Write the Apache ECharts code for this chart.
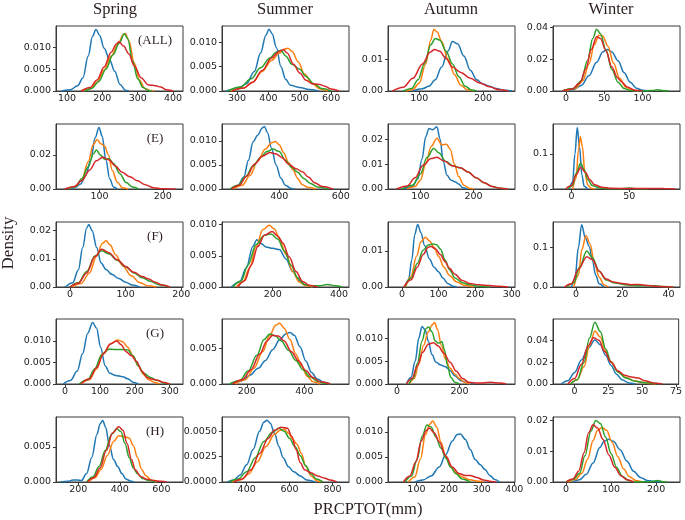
<!DOCTYPE html>
<html>
<head>
<meta charset="utf-8">
<script src="https://cdn.jsdelivr.net/npm/echarts@6/dist/echarts.min.js"></script>
<style>
html,body{margin:0;padding:0;background:#fff;}
#c{width:685px;height:520px;}
</style>
</head>
<body>
<div id="c"></div>
<script>
// ---------------- DATA ----------------
const seasons = ['Spring', 'Summer', 'Autumn', 'Winter'];
const regions = ['(ALL)', '(E)', '(F)', '(G)', '(H)'];
const xTitle = 'PRCPTOT(mm)';
const yTitle = 'Density';

// tick values per panel (row-major: region rows, season columns)
const xTicks = [
  [100, 200, 300, 400], [300, 400, 500, 600], [100, 200], [0, 50, 100],
  [100, 200], [400, 600], [100, 200], [0, 50],
  [0, 100, 200], [200, 400], [0, 100, 200, 300], [0, 20, 40],
  [0, 100, 200, 300], [200, 400], [0, 200], [0, 25, 50, 75],
  [200, 400, 600], [400, 600, 800], [100, 200, 300, 400], [0, 100, 200]
];
const yTicks = [
  [0, 0.005, 0.010], [0, 0.005, 0.010], [0, 0.01], [0, 0.02, 0.04],
  [0, 0.02], [0, 0.005, 0.010], [0, 0.01, 0.02], [0, 0.1],
  [0, 0.01, 0.02], [0, 0.005, 0.010], [0, 0.01], [0, 0.1],
  [0, 0.005, 0.010], [0, 0.005], [0, 0.005, 0.010], [0, 0.02, 0.04],
  [0, 0.005], [0, 0.0025, 0.0050], [0, 0.005, 0.010], [0, 0.01, 0.02]
];
const yTickDecimals = [3, 3, 2, 2, 2, 3, 2, 1, 2, 3, 2, 1, 3, 3, 3, 2, 3, 4, 3, 2];
const xRanges = [
  [69, 428], [252, 657], [51, 250], [-17, 149],
  [31, 232], [214, 627], [39, 278], [-16, 94],
  [-25, 203], [47, 430], [-38, 309], [-10, 45],
  [-26, 338], [114, 555], [-29, 378], [-16, 77],
  [93, 704], [285, 877], [13, 402], [-29, 253]
];
const yMax = [0.0149, 0.01338, 0.0204, 0.0408, 0.0381, 0.01352, 0.0261, 0.185,
  0.0231, 0.01043, 0.018, 0.165, 0.0151, 0.00908, 0.01435, 0.0595,
  0.00929, 0.00641, 0.013, 0.0211];

// ---- (ALL) ----
const ALL_Spring_b = [[85,0],[110,0.0003],[130,0.0012],[145,0.003],[160,0.008],[172,0.0125],[182,0.0141],[192,0.0128],[205,0.0098],[220,0.0073],[235,0.0045],[250,0.0015],[265,0.0002],[275,0]];
const ALL_Spring_o = [[145,0],[165,0.0005],[185,0.002],[205,0.0048],[225,0.008],[245,0.0108],[258,0.0128],[265,0.0132],[275,0.0115],[290,0.0065],[305,0.0025],[320,0.0006],[335,0.0001],[345,0]];
const ALL_Spring_g = [[150,0],[170,0.0006],[190,0.0022],[210,0.005],[230,0.0083],[248,0.011],[262,0.0131],[272,0.012],[285,0.007],[300,0.0028],[315,0.0008],[330,0.0001],[340,0]];
const ALL_Spring_r = [[140,0],[165,0.0008],[185,0.0025],[205,0.0055],[225,0.0089],[240,0.0108],[247,0.0113],[260,0.0103],[275,0.0085],[290,0.0058],[310,0.003],[330,0.0014],[350,0.0012],[365,0.0009],[380,0.0003],[400,0]];

const ALL_Summer_b = [[265,0],[300,0.0004],[330,0.0015],[355,0.004],[375,0.0078],[392,0.0115],[402,0.0127],[412,0.0118],[425,0.009],[440,0.005],[455,0.0024],[470,0.0012],[500,0.0007],[530,0.0003],[560,0]];
const ALL_Summer_o = [[280,0],[320,0.0006],[350,0.0018],[380,0.004],[410,0.0063],[435,0.0078],[450,0.0086],[462,0.0088],[475,0.0082],[495,0.006],[515,0.0035],[540,0.0015],[565,0.0004],[590,0]];
const ALL_Summer_g = [[270,0],[310,0.0008],[345,0.0025],[375,0.0048],[405,0.0068],[425,0.008],[440,0.0084],[455,0.0072],[475,0.0055],[500,0.0045],[520,0.003],[545,0.0015],[570,0.0005],[600,0]];
const ALL_Summer_r = [[285,0],[320,0.0006],[350,0.0018],[380,0.0042],[410,0.0068],[435,0.0082],[448,0.0085],[460,0.0078],[480,0.0055],[500,0.0037],[520,0.0022],[540,0.0015],[560,0.0014],[580,0.001],[600,0.0004],[625,0]];

const ALL_Autumn_b = [[90,0],[105,0.0007],[115,0.0015],[125,0.0035],[135,0.0075],[145,0.0125],[152,0.0155],[160,0.0148],[170,0.011],[180,0.0065],[190,0.0035],[200,0.0022],[210,0.0015],[220,0.0008],[235,0.0002],[245,0]];
const ALL_Autumn_o = [[78,0],[90,0.0005],[100,0.0025],[110,0.0085],[118,0.016],[123,0.0194],[128,0.0185],[135,0.0155],[145,0.01],[155,0.0052],[165,0.0018],[175,0.0004],[185,0]];
const ALL_Autumn_g = [[75,0],[88,0.0008],[98,0.0035],[108,0.0085],[118,0.0145],[125,0.0165],[132,0.016],[142,0.0125],[152,0.0085],[162,0.0045],[172,0.0015],[182,0.0003],[190,0]];
const ALL_Autumn_r = [[58,0],[75,0.0012],[90,0.004],[105,0.0085],[117,0.0122],[124,0.013],[132,0.0125],[142,0.0102],[152,0.0075],[165,0.0058],[180,0.004],[195,0.0025],[210,0.0013],[225,0.0004],[240,0]];

const ALL_Winter_b = [[-5,0],[10,0.001],[20,0.0035],[30,0.0095],[40,0.018],[48,0.0245],[54,0.0261],[60,0.0245],[68,0.019],[76,0.0115],[84,0.0055],[92,0.0018],[100,0.0004],[108,0]];
const ALL_Winter_o = [[0,0],[12,0.0015],[22,0.0065],[30,0.017],[37,0.029],[43,0.035],[48,0.0345],[55,0.028],[62,0.0175],[70,0.008],[78,0.0025],[86,0.0005],[95,0]];
const ALL_Winter_g = [[-5,0],[10,0.0015],[20,0.0065],[28,0.019],[35,0.033],[40,0.0387],[45,0.036],[52,0.026],[60,0.0135],[68,0.0055],[76,0.0015],[85,0.0003],[100,0],[112,0.0003],[120,0.0008],[128,0.0002],[135,0]];
const ALL_Winter_r = [[-5,0],[8,0.0012],[18,0.005],[26,0.014],[33,0.026],[40,0.034],[45,0.033],[52,0.0255],[60,0.015],[67,0.0085],[72,0.006],[80,0.0025],[90,0.0005],[100,0]];

// ---- (E) ----
const E_Spring_b = [[55,0],[62,0.001],[70,0.003],[78,0.008],[86,0.017],[93,0.03],[99,0.0361],[104,0.031],[110,0.017],[116,0.006],[122,0.0012],[128,0]];
const E_Spring_o = [[50,0],[62,0.0015],[72,0.006],[82,0.016],[90,0.026],[96,0.029],[102,0.0265],[108,0.025],[114,0.02],[120,0.011],[128,0.004],[136,0.0008],[145,0]];
const E_Spring_g = [[50,0],[62,0.0015],[72,0.006],[82,0.013],[90,0.0205],[95,0.0229],[101,0.02],[108,0.0175],[115,0.0178],[122,0.015],[132,0.009],[142,0.0038],[152,0.0012],[162,0]];
const E_Spring_r = [[45,0],[60,0.0015],[72,0.005],[84,0.011],[95,0.0165],[105,0.0186],[115,0.017],[125,0.0135],[135,0.01],[148,0.0072],[160,0.0048],[172,0.0025],[185,0.0008],[200,0.0002],[220,0]];

const E_Summer_b = [[245,0],[265,0.0006],[285,0.0025],[300,0.006],[315,0.0098],[330,0.0112],[345,0.0127],[352,0.013],[362,0.0117],[375,0.0085],[390,0.005],[405,0.0023],[420,0.0008],[440,0.0001],[450,0]];
const E_Summer_o = [[250,0],[280,0.0008],[305,0.0028],[330,0.0058],[355,0.0083],[375,0.0096],[388,0.0099],[400,0.0092],[415,0.0075],[430,0.0055],[445,0.004],[460,0.0022],[475,0.0009],[495,0.0003],[520,0]];
const E_Summer_g = [[240,0],[265,0.0008],[290,0.0025],[315,0.0048],[340,0.0066],[360,0.0078],[380,0.0083],[400,0.0078],[420,0.006],[440,0.0045],[460,0.0035],[480,0.0022],[500,0.0012],[525,0.0004],[560,0]];
const E_Summer_r = [[245,0],[270,0.0008],[295,0.0027],[320,0.0052],[345,0.0068],[370,0.0076],[390,0.0073],[410,0.0065],[430,0.0052],[455,0.0042],[475,0.0036],[495,0.0025],[515,0.0013],[540,0.0005],[575,0]];

const E_Autumn_b = [[70,0],[85,0.001],[95,0.004],[103,0.012],[110,0.021],[116,0.0243],[123,0.0238],[131,0.025],[137,0.02],[143,0.011],[150,0.0055],[158,0.0035],[166,0.0028],[172,0.002],[180,0.0005],[188,0]];
const E_Autumn_o = [[75,0],[90,0.001],[100,0.0035],[110,0.01],[120,0.017],[131,0.0204],[140,0.0178],[149,0.018],[156,0.016],[164,0.01],[172,0.005],[182,0.0015],[192,0.0003],[200,0]];
const E_Autumn_g = [[65,0],[85,0.0015],[100,0.006],[112,0.0125],[125,0.0163],[135,0.0145],[148,0.011],[162,0.0092],[175,0.0085],[190,0.0068],[205,0.0045],[220,0.0025],[235,0.001],[250,0.0003],[262,0]];
const E_Autumn_r = [[55,0],[75,0.0012],[90,0.0045],[105,0.0095],[120,0.0122],[131,0.0127],[145,0.0112],[160,0.0093],[175,0.0085],[190,0.0068],[205,0.0045],[220,0.0025],[235,0.001],[250,0.0003],[265,0]];

const E_Winter_b = [[-2,0],[1,0.02],[3,0.1],[5,0.175],[7,0.12],[9,0.04],[11,0.008],[14,0]];
const E_Winter_o = [[1,0],[4,0.03],[6,0.11],[7.7,0.149],[9.5,0.12],[11.5,0.05],[14,0.012],[17,0.002],[20,0]];
const E_Winter_g = [[-3,0],[1,0.01],[4,0.045],[8,0.073],[11,0.055],[14,0.028],[18,0.01],[24,0.003],[32,0.001],[42,0.001],[50,0.0025],[58,0.001],[66,0]];
const E_Winter_r = [[-5,0],[0,0.01],[4,0.04],[8,0.061],[12,0.048],[16,0.026],[20,0.012],[26,0.005],[35,0.002],[50,0.0015],[65,0.0015],[80,0.0012],[90,0]];

// ---- (F) ----
const F_Spring_b = [[-8,0],[5,0.0015],[15,0.006],[23,0.014],[30,0.021],[34,0.0222],[40,0.02],[48,0.014],[56,0.0085],[65,0.0062],[75,0.0045],[88,0.003],[100,0.0017],[112,0.0007],[125,0]];
const F_Spring_o = [[5,0],[20,0.0012],[35,0.005],[48,0.011],[58,0.0155],[65,0.0164],[72,0.015],[82,0.0115],[95,0.0075],[110,0.004],[125,0.0016],[140,0.0004],[155,0]];
const F_Spring_g = [[0,0],[15,0.0015],[30,0.0055],[45,0.011],[57,0.0129],[70,0.0118],[85,0.0095],[100,0.0072],[115,0.005],[130,0.0033],[145,0.002],[160,0.0008],[178,0]];
const F_Spring_r = [[0,0],[15,0.0013],[30,0.005],[45,0.0108],[57,0.0134],[70,0.0122],[85,0.0097],[100,0.0073],[115,0.0052],[130,0.0037],[142,0.0028],[152,0.0018],[165,0.0007],[180,0]];

const F_Summer_b = [[75,0],[100,0.0008],[120,0.003],[140,0.0065],[152,0.0076],[165,0.007],[180,0.0064],[200,0.0062],[220,0.006],[240,0.0045],[260,0.0025],[280,0.001],[300,0.0003],[320,0]];
const F_Summer_o = [[90,0],[110,0.0008],[130,0.003],[150,0.0065],[170,0.0092],[190,0.0099],[205,0.0093],[220,0.0078],[240,0.0052],[260,0.0025],[280,0.0008],[300,0.0002],[320,0]];
const F_Summer_g = [[80,0],[105,0.001],[125,0.0035],[150,0.0068],[175,0.0083],[195,0.0085],[215,0.0077],[235,0.0058],[255,0.0035],[275,0.0015],[295,0.0004],[315,0.0002],[340,0.0002],[365,0.0004],[390,0.0002],[410,0]];
const F_Summer_r = [[95,0],[115,0.001],[135,0.0035],[155,0.0065],[175,0.0083],[198,0.0089],[215,0.0082],[230,0.0071],[250,0.0048],[270,0.0025],[290,0.0009],[310,0.0003],[335,0]];

const F_Autumn_b = [[8,0],[18,0.002],[27,0.0075],[35,0.0145],[43,0.0173],[52,0.015],[62,0.0115],[75,0.0078],[88,0.0055],[100,0.0042],[112,0.0025],[125,0.001],[140,0.0002],[150,0]];
const F_Autumn_o = [[10,0],[25,0.003],[40,0.0085],[52,0.0125],[64,0.0138],[75,0.0128],[88,0.011],[100,0.0085],[115,0.0055],[130,0.0032],[150,0.0014],[170,0.0005],[195,0]];
const F_Autumn_g = [[8,0],[25,0.0025],[42,0.0065],[58,0.0102],[72,0.0116],[85,0.0119],[95,0.0117],[105,0.0105],[118,0.0075],[130,0.0048],[145,0.0025],[165,0.0012],[185,0.0006],[210,0.0002],[240,0]];
const F_Autumn_r = [[5,0],[25,0.002],[42,0.0055],[58,0.009],[72,0.011],[80,0.0112],[92,0.0105],[105,0.009],[118,0.007],[130,0.0052],[145,0.0035],[165,0.0018],[185,0.001],[210,0.0006],[240,0.0004],[265,0.0002],[290,0]];

const F_Winter_b = [[-2,0],[-0.5,0.02],[1,0.1],[2.4,0.158],[4,0.125],[5.7,0.103],[7,0.07],[8.5,0.03],[10,0.008],[12,0]];
const F_Winter_o = [[-1,0],[1,0.03],[2.5,0.095],[4.3,0.131],[6,0.11],[8,0.06],[10,0.025],[12,0.006],[14,0]];
const F_Winter_g = [[-4,0],[-1,0.01],[1.5,0.05],[4.6,0.0915],[7,0.075],[10,0.04],[13,0.018],[17,0.01],[22,0.005],[28,0.003],[34,0.003],[38,0.001],[42,0]];
const F_Winter_r = [[-5,0],[-2,0.008],[1,0.045],[4.6,0.077],[7,0.07],[10,0.04],[13,0.02],[16,0.013],[20,0.009],[24,0.006],[27,0.0065],[31,0.004],[36,0.0015],[42,0]];

// ---- (G) ----
const G_Spring_b = [[-5,0],[15,0.0008],[35,0.003],[50,0.007],[65,0.0118],[79,0.0143],[90,0.013],[102,0.0085],[115,0.0042],[128,0.0025],[145,0.002],[165,0.0017],[180,0.0012],[195,0.0004],[210,0]];
const G_Spring_o = [[45,0],[70,0.001],[90,0.0035],[110,0.0072],[130,0.0093],[150,0.0102],[165,0.0098],[180,0.0085],[195,0.0065],[210,0.0042],[225,0.0022],[240,0.001],[255,0.0004],[270,0]];
const G_Spring_g = [[40,0],[65,0.001],[85,0.0035],[105,0.0068],[125,0.0081],[145,0.008],[165,0.008],[180,0.0079],[195,0.0065],[210,0.0042],[225,0.0025],[245,0.0015],[265,0.0008],[285,0.0002],[300,0]];
const G_Spring_r = [[45,0],[70,0.0012],[90,0.0038],[110,0.007],[130,0.0093],[148,0.01],[160,0.0092],[175,0.0075],[190,0.0066],[205,0.0052],[220,0.003],[235,0.0015],[250,0.0011],[265,0.0009],[280,0.0004],[300,0]];

const G_Summer_b = [[145,0],[180,0.0004],[210,0.0012],[240,0.0022],[265,0.0033],[290,0.0048],[315,0.0062],[335,0.007],[350,0.0072],[365,0.0068],[385,0.0052],[405,0.0032],[425,0.0016],[445,0.0007],[470,0.0002],[490,0]];
const G_Summer_o = [[160,0],[195,0.0006],[225,0.0022],[255,0.0045],[280,0.0068],[300,0.0082],[314,0.0085],[330,0.0078],[350,0.0062],[370,0.0042],[390,0.0025],[410,0.0011],[430,0.0003],[455,0]];
const G_Summer_g = [[140,0],[175,0.0005],[205,0.0018],[235,0.004],[260,0.0062],[280,0.007],[300,0.0067],[320,0.006],[345,0.0047],[370,0.0033],[395,0.002],[420,0.001],[445,0.0004],[470,0.0001],[490,0]];
const G_Summer_r = [[150,0],[185,0.0006],[215,0.002],[245,0.0042],[270,0.006],[290,0.0068],[310,0.0067],[330,0.006],[355,0.0045],[380,0.0032],[405,0.0019],[430,0.0009],[455,0.0003],[490,0]];

const G_Autumn_b = [[30,0],[45,0.0015],[58,0.005],[70,0.0102],[80,0.0127],[90,0.012],[100,0.0095],[112,0.0065],[125,0.0048],[140,0.0042],[155,0.0038],[170,0.003],[185,0.0018],[205,0.0007],[225,0.0002],[245,0]];
const G_Autumn_o = [[40,0],[55,0.0012],[70,0.0045],[85,0.0085],[100,0.0115],[112,0.013],[120,0.0136],[130,0.012],[142,0.0085],[155,0.0055],[170,0.0035],[185,0.0022],[200,0.0012],[215,0.0004],[235,0]];
const G_Autumn_g = [[38,0],[52,0.0012],[65,0.0045],[80,0.0095],[92,0.0122],[101,0.0126],[112,0.0115],[122,0.0095],[132,0.009],[144,0.0093],[152,0.0075],[162,0.004],[172,0.0015],[185,0.0004],[200,0]];
const G_Autumn_r = [[30,0],[48,0.0012],[65,0.004],[82,0.007],[100,0.0088],[117,0.0091],[132,0.0084],[150,0.0068],[170,0.0048],[190,0.0028],[210,0.0012],[230,0.0004],[260,0.0002],[300,0.0004],[330,0.0002],[350,0]];

const G_Winter_b = [[-10,0],[-5,0.003],[0,0.0105],[5,0.022],[10,0.033],[15,0.0402],[19,0.036],[23,0.026],[27,0.017],[31,0.009],[35,0.004],[40,0.001],[45,0]];
const G_Winter_o = [[-3,0],[2,0.004],[7,0.016],[11,0.035],[15,0.0485],[19,0.043],[23,0.03],[27,0.0205],[32,0.012],[38,0.006],[44,0.003],[50,0.0015],[56,0.0004],[60,0]];
const G_Winter_g = [[-3,0],[2,0.004],[7,0.02],[11,0.042],[15,0.0566],[19,0.048],[23,0.032],[27,0.02],[32,0.011],[38,0.0055],[45,0.0025],[52,0.0012],[58,0.0006],[63,0]];
const G_Winter_r = [[-5,0],[0,0.005],[5,0.018],[10,0.035],[14,0.0424],[18,0.04],[22,0.03],[27,0.02],[32,0.012],[37,0.008],[42,0.0065],[47,0.0055],[52,0.003],[58,0.001],[65,0]];

// ---- (H) ----
const H_Spring_b = [[115,0],[150,0.0001],[175,0.0003],[195,0.0003],[215,0.0002],[240,0.0012],[265,0.0035],[290,0.0068],[305,0.0083],[318,0.0088],[332,0.0078],[350,0.0052],[370,0.0032],[390,0.0022],[410,0.0012],[430,0.0004],[455,0.0001],[470,0]];
const H_Spring_o = [[250,0],[280,0.0006],[310,0.0018],[340,0.0038],[370,0.0058],[395,0.0066],[420,0.0065],[445,0.0063],[465,0.0052],[485,0.0035],[505,0.0018],[525,0.0009],[550,0.0003],[575,0]];
const H_Spring_g = [[240,0],[270,0.0007],[300,0.0022],[330,0.0045],[360,0.0068],[385,0.0076],[405,0.0072],[425,0.0055],[445,0.0035],[465,0.002],[485,0.0012],[510,0.0005],[540,0.0002],[570,0]];
const H_Spring_r = [[245,0],[275,0.0006],[305,0.002],[335,0.0045],[365,0.007],[395,0.0079],[415,0.0074],[435,0.0055],[455,0.0033],[475,0.0017],[500,0.0008],[530,0.0004],[565,0.0002],[600,0.0001],[625,0]];

const H_Summer_b = [[310,0],[340,0.0002],[370,0.0007],[400,0.0017],[430,0.0032],[460,0.005],[480,0.0059],[495,0.0061],[510,0.0058],[530,0.0048],[550,0.0035],[570,0.0024],[595,0.0015],[620,0.001],[650,0.0006],[680,0.0002],[720,0]];
const H_Summer_o = [[330,0],[370,0.0002],[410,0.0008],[450,0.002],[490,0.0035],[530,0.0047],[555,0.0051],[575,0.0052],[595,0.0048],[615,0.0042],[635,0.0037],[655,0.0028],[675,0.0016],[700,0.0006],[730,0.0001],[745,0]];
const H_Summer_g = [[320,0],[360,0.0003],[400,0.001],[440,0.0024],[480,0.004],[520,0.0049],[550,0.0053],[575,0.005],[600,0.0043],[625,0.0035],[650,0.0026],[675,0.0016],[700,0.0008],[725,0.0003],[755,0]];
const H_Summer_r = [[340,0],[380,0.0003],[420,0.0012],[460,0.0028],[500,0.0043],[530,0.0051],[560,0.0054],[590,0.0053],[610,0.0045],[630,0.0032],[650,0.0019],[670,0.0012],[700,0.0009],[730,0.0006],[760,0.0004],[790,0.0002],[820,0]];

const H_Autumn_b = [[95,0],[120,0.0004],[145,0.0012],[170,0.003],[190,0.0055],[210,0.0082],[225,0.0095],[235,0.0096],[250,0.0085],[265,0.0065],[280,0.0045],[295,0.0035],[310,0.0025],[325,0.0013],[340,0.0005],[355,0]];
const H_Autumn_o = [[75,0],[95,0.001],[112,0.0045],[128,0.0095],[140,0.0115],[150,0.0122],[162,0.011],[175,0.008],[190,0.005],[205,0.003],[220,0.0019],[240,0.001],[260,0.0005],[285,0.0002],[305,0]];
const H_Autumn_g = [[65,0],[85,0.0012],[102,0.0045],[118,0.0092],[132,0.0114],[145,0.011],[160,0.009],[175,0.0068],[190,0.0048],[205,0.003],[220,0.0017],[240,0.0006],[265,0]];
const H_Autumn_r = [[60,0],[80,0.0012],[98,0.004],[115,0.0082],[130,0.0103],[140,0.0108],[155,0.0098],[170,0.008],[190,0.0052],[210,0.003],[230,0.0017],[250,0.0013],[265,0.0013],[285,0.0009],[305,0.0004],[330,0.0001],[345,0]];

const H_Winter_b = [[15,0],[30,0.0007],[45,0.0025],[60,0.0062],[75,0.0112],[85,0.0133],[95,0.0139],[105,0.0132],[120,0.0105],[135,0.0068],[150,0.0035],[165,0.0015],[180,0.0005],[200,0.0001],[215,0]];
const H_Winter_o = [[5,0],[20,0.0008],[35,0.0028],[48,0.0075],[60,0.0135],[70,0.0168],[80,0.0177],[90,0.0168],[102,0.013],[115,0.0082],[128,0.0042],[140,0.0018],[155,0.0005],[170,0]];
const H_Winter_g = [[0,0],[15,0.0008],[30,0.0028],[42,0.0085],[55,0.0165],[66,0.02],[76,0.019],[88,0.0145],[100,0.0092],[112,0.0048],[125,0.0018],[140,0.0004],[155,0],[190,0.0001],[203,0.0005],[215,0.0001],[225,0]];
const H_Winter_r = [[0,0],[15,0.001],[28,0.0035],[40,0.0095],[50,0.016],[60,0.0186],[70,0.0175],[82,0.0138],[95,0.0088],[108,0.0048],[122,0.002],[135,0.0007],[150,0]];

const panelCurves = [
  [ALL_Spring_b, ALL_Spring_o, ALL_Spring_g, ALL_Spring_r],
  [ALL_Summer_b, ALL_Summer_o, ALL_Summer_g, ALL_Summer_r],
  [ALL_Autumn_b, ALL_Autumn_o, ALL_Autumn_g, ALL_Autumn_r],
  [ALL_Winter_b, ALL_Winter_o, ALL_Winter_g, ALL_Winter_r],
  [E_Spring_b, E_Spring_o, E_Spring_g, E_Spring_r],
  [E_Summer_b, E_Summer_o, E_Summer_g, E_Summer_r],
  [E_Autumn_b, E_Autumn_o, E_Autumn_g, E_Autumn_r],
  [E_Winter_b, E_Winter_o, E_Winter_g, E_Winter_r],
  [F_Spring_b, F_Spring_o, F_Spring_g, F_Spring_r],
  [F_Summer_b, F_Summer_o, F_Summer_g, F_Summer_r],
  [F_Autumn_b, F_Autumn_o, F_Autumn_g, F_Autumn_r],
  [F_Winter_b, F_Winter_o, F_Winter_g, F_Winter_r],
  [G_Spring_b, G_Spring_o, G_Spring_g, G_Spring_r],
  [G_Summer_b, G_Summer_o, G_Summer_g, G_Summer_r],
  [G_Autumn_b, G_Autumn_o, G_Autumn_g, G_Autumn_r],
  [G_Winter_b, G_Winter_o, G_Winter_g, G_Winter_r],
  [H_Spring_b, H_Spring_o, H_Spring_g, H_Spring_r],
  [H_Summer_b, H_Summer_o, H_Summer_g, H_Summer_r],
  [H_Autumn_b, H_Autumn_o, H_Autumn_g, H_Autumn_r],
  [H_Winter_b, H_Winter_o, H_Winter_g, H_Winter_r]
];

// ---------------- LAYOUT / STYLE ----------------
const colLeft = [56, 222, 388, 553];
const rowTop = [26, 124, 222, 319, 417];
const panelW = 127, panelH = 65;
const lineColors = ['#1f77b4', '#ff7f0e', '#2ca02c', '#d62728'];
const titleX = [115, 285, 451, 611];
const frameColor = '#3a3a3a';
const tickFont = 'DejaVu Sans';
const serif = '"Liberation Serif", "DejaVu Serif", serif';

const grids = [], xAxes = [], yAxes = [], series = [];
for (let r = 0; r < 5; r++) {
  for (let c = 0; c < 4; c++) {
    const i = r * 4 + c;
    grids.push({ left: colLeft[c], top: rowTop[r], width: panelW, height: panelH,
      show: true, borderColor: frameColor, borderWidth: 1, backgroundColor: 'transparent', containLabel: false });
    xAxes.push({
      gridIndex: i, type: 'value', min: xRanges[i][0], max: xRanges[i][1],
      axisLine: { show: true, onZero: false, lineStyle: { color: frameColor, width: 1 } },
      axisTick: { show: true, length: 3, customValues: xTicks[i], lineStyle: { color: frameColor } },
      axisLabel: { customValues: xTicks[i], fontSize: 9.5, fontFamily: tickFont, color: '#222', margin: 3,
        formatter: v => String(Math.round(v)) },
      splitLine: { show: false }
    });
    const dec = yTickDecimals[i];
    yAxes.push({
      gridIndex: i, type: 'value', min: 0, max: yMax[i],
      axisLine: { show: true, onZero: false, lineStyle: { color: frameColor, width: 1 } },
      axisTick: { show: true, length: 3, customValues: yTicks[i], lineStyle: { color: frameColor } },
      axisLabel: { customValues: yTicks[i], fontSize: 9.5, fontFamily: tickFont, color: '#222', margin: 5,
        formatter: v => Number(v).toFixed(dec) },
      splitLine: { show: false }
    });
    panelCurves[i].forEach((d, k) => {
      series.push({
        type: 'line', xAxisIndex: i, yAxisIndex: i, data: d,
        smooth: 0.35, smoothMonotone: 'x', showSymbol: false, symbol: 'none',
        lineStyle: { color: lineColors[k], width: 1.5 }, itemStyle: { color: lineColors[k] },
        z: 2 + k, silent: true, clip: true
      });
    });
  }
}

const graphics = [];
seasons.forEach((s, c) => {
  graphics.push({ type: 'text', x: titleX[c], y: 10,
    style: { text: s, font: '16.5px ' + serif, fill: '#2b1d1d', align: 'center', verticalAlign: 'middle',
      textAlign: 'center', textVerticalAlign: 'middle' } });
});
regions.forEach((g, r) => {
  graphics.push({ type: 'text', x: 155, y: rowTop[r] + 15,
    style: { text: g, font: '13px ' + serif, fill: '#2b1d1d', align: 'center', verticalAlign: 'middle',
      textAlign: 'center', textVerticalAlign: 'middle' } });
});
graphics.push({ type: 'text', x: 9, y: 243, rotation: Math.PI / 2,
  style: { text: yTitle, font: '17px ' + serif, fill: '#2b1d1d', align: 'center', verticalAlign: 'middle',
    textAlign: 'center', textVerticalAlign: 'middle' } });
graphics.push({ type: 'text', x: 368, y: 510,
  style: { text: xTitle, font: '16.5px ' + serif, fill: '#2b1d1d', align: 'center', verticalAlign: 'middle',
    textAlign: 'center', textVerticalAlign: 'middle' } });

const chart = echarts.init(document.getElementById('c'), null, { renderer: 'canvas' });
chart.setOption({
  animation: false,
  backgroundColor: '#ffffff',
  grid: grids, xAxis: xAxes, yAxis: yAxes, series: series,
  graphic: graphics
});
</script>
</body>
</html>
